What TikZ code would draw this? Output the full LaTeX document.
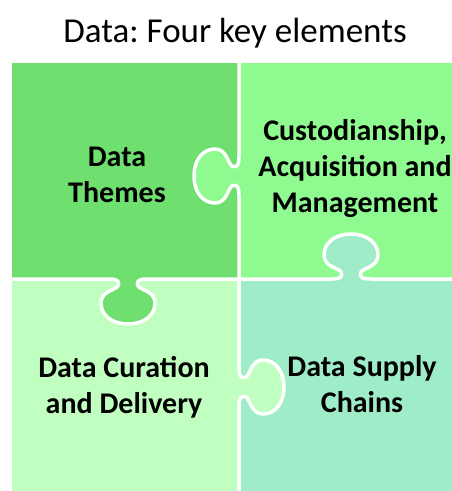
\documentclass[tikz,border=0pt]{standalone}
\usepackage{fontspec}
\setmainfont{Carlito}
\frenchspacing

\definecolor{themesgreen}{HTML}{6FDF6F}
\definecolor{custodygreen}{HTML}{8FFA8F}
\definecolor{curationgreen}{HTML}{C1FFC1}
\definecolor{supplygreen}{HTML}{9EECC8}

\tikzset{
    divider/.style={draw=white, line width=3.5pt, line join=round},
    piecetext/.style={font=\fontsize{30}{36}\selectfont\bfseries, align=center, anchor=base}
}

% ушко пазла: вдоль стыка от -20 до 20, выступ на 45
\newcommand{\tabcurve}{-- ( -20, 0 ) .. controls ( -10, 0 ) and ( -8, 2 ) .. ( -10, 7 ) .. controls ( -12, 11 ) and ( -27, 12 ) .. ( -27, 24 ) .. controls ( -27, 37 ) and ( -15, 45 ) .. ( 0, 45 ) .. controls ( 15, 45 ) and ( 27, 37 ) .. ( 27, 24 ) .. controls ( 27, 12 ) and ( 12, 11 ) .. ( 10, 7 ) .. controls ( 8, 2 ) and ( 10, 0 ) .. ( 20, 0 )}

\begin{document}
\begin{tikzpicture}[x=1pt, y=-1pt]
            \useasboundingbox ( 0, 0 ) rectangle ( 452, 491 );

% куски
            \fill [themesgreen] ( 12, 63 ) rectangle ( 239, 279 );
            \fill [custodygreen] ( 239, 63 ) rectangle ( 452, 279 );
            \fill [curationgreen] ( 12, 279 ) rectangle ( 239, 491 );
            \fill [supplygreen] ( 239, 279 ) rectangle ( 452, 491 );

% ушки
            \fill [custodygreen] ( 239, 176 ) {[shift={( 239, 176 )}, rotate=-90] \tabcurve} -- cycle;
            \fill [supplygreen] ( 351, 279 ) {[shift={( 351, 279 )}, rotate=180] \tabcurve} -- cycle;
            \fill [themesgreen] ( 128, 279 ) {[shift={( 128, 279 )}] \tabcurve} -- cycle;
            \fill [curationgreen] ( 239, 387 ) {[shift={( 239, 387 )}, rotate=90] \tabcurve} -- cycle;

% стыки
            \draw [divider] ( 239, 63 ) {[shift={( 239, 176 )}, rotate=-90] \tabcurve} -- ( 239, 279 );
            \draw [divider] ( 239, 491 ) {[shift={( 239, 387 )}, rotate=90] \tabcurve} -- ( 239, 279 );
            \draw [divider] ( 12, 279 ) {[shift={( 128, 279 )}] \tabcurve} -- ( 239, 279 );
            \draw [divider] ( 452, 279 ) {[shift={( 351, 279 )}, rotate=180] \tabcurve} -- ( 239, 279 );

% подписи
            \node [anchor=base, font=\fontsize{35}{42}\selectfont] (title) at ( 235, 42 ) {Data: Four key elements};
            \node [piecetext] (themes) at ( 117, 202 ) {Data\\Themes};
            \node [piecetext] (custody) at ( 355, 212 ) {Custodianship,\\Acquisition and\\Management};
            \node [piecetext] (curation) at ( 124, 413 ) {Data Curation\\and Delivery};
            \node [piecetext] (supply) at ( 362, 412 ) {Data Supply\\Chains};
\end{tikzpicture}
\end{document}
